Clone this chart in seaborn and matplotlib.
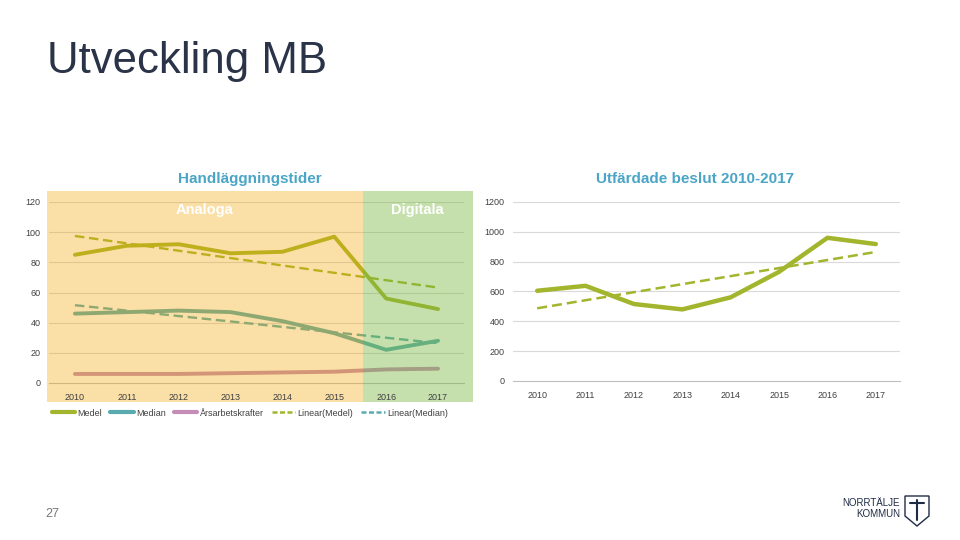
import numpy as np
import pandas as pd
import matplotlib
matplotlib.use("Agg")
import matplotlib.pyplot as plt
import seaborn as sns
from matplotlib.patches import Rectangle, Polygon
from matplotlib.lines import Line2D

# Data
years = [2010, 2011, 2012, 2013, 2014, 2015, 2016, 2017]
medel = [85, 91, 92, 86, 87, 97, 56, 49]
median = [46, 47, 48, 47, 41, 33, 22, 28]
arsarbetskrafter = [6, 6, 6, 6.5, 7, 7.5, 9, 9.5]
beslut = [605, 638, 516, 480, 561, 732, 960, 918]

left_yticks = [0, 20, 40, 60, 80, 100, 120]
right_yticks = [0, 200, 400, 600, 800, 1000, 1200]

C_MEDEL = "#a3b52c"
C_MEDIAN = "#5aabb0"
C_ARS = "#c38db8"
C_TITLE = "#4aa5c6"
C_GRID = "#d9d9d9"
C_TICK = "#404040"

sns.set_theme(style="white")
plt.rcParams["font.family"] = ["Liberation Sans", "DejaVu Sans"]

W, H = 960, 540
fig = plt.figure(figsize=(9.6, 5.4), dpi=100)


def fx(px):
    return px / W


def fy(py):
    return 1 - py / H


# slide title and page number
fig.text(fx(47), fy(62), "Utveckling MB", fontsize=31.5, color="#2a3347", va="center", ha="left")
fig.text(fx(52), fy(514), "27", fontsize=9, color="#777777", va="center", ha="center")

df = pd.DataFrame({"year": years, "Medel": medel, "Median": median,
                   "Årsarbetskrafter": arsarbetskrafter, "beslut": beslut})

# ---- left chart: Handläggningstider
ax1 = fig.add_axes([fx(49), fy(383), fx(464) - fx(49), fy(202) - fy(383)])
ax1.set_facecolor("none")
sns.lineplot(data=df, x="year", y="Medel", ax=ax1, color=C_MEDEL, lw=2.8)
sns.lineplot(data=df, x="year", y="Median", ax=ax1, color=C_MEDIAN, lw=2.8)
sns.lineplot(data=df, x="year", y="Årsarbetskrafter", ax=ax1, color=C_ARS, lw=2.8)
sns.regplot(data=df, x="year", y="Medel", ax=ax1, scatter=False, ci=None, truncate=True,
            line_kws=dict(color=C_MEDEL, lw=1.7, ls=(0, (4, 2))))
sns.regplot(data=df, x="year", y="Median", ax=ax1, scatter=False, ci=None, truncate=True,
            line_kws=dict(color=C_MEDIAN, lw=1.7, ls=(0, (4, 2))))

# translucent period boxes laid over the left chart's lines
ax1.add_patch(Rectangle((fx(47), fy(402)), fx(363) - fx(47), fy(191) - fy(402),
                        transform=fig.transFigure, facecolor="#f2a400", alpha=0.35,
                        edgecolor="none", zorder=3, clip_on=False))
ax1.add_patch(Rectangle((fx(363), fy(402)), fx(473) - fx(363), fy(191) - fy(402),
                        transform=fig.transFigure, facecolor="#79b73c", alpha=0.42,
                        edgecolor="none", zorder=3, clip_on=False))

# ---- right chart: Utfärdade beslut
ax2 = fig.add_axes([fx(513), fy(381), fx(900) - fx(513), fy(202) - fy(381)])
sns.lineplot(data=df, x="year", y="beslut", ax=ax2, color=C_MEDEL, lw=3.2)
sns.regplot(data=df, x="year", y="beslut", ax=ax2, scatter=False, ci=None, truncate=True,
            line_kws=dict(color=C_MEDEL, lw=1.8, ls=(0, (4, 2))))

for ax, ticks in ((ax1, left_yticks), (ax2, right_yticks)):
    ax.set_xlim(years[0] - 0.5, years[-1] + 0.5)
    ax.set_ylim(ticks[0], ticks[-1])
    ax.set_yticks(ticks)
    ax.set_yticklabels([str(t) for t in ticks])
    ax.set_xticks(years)
    ax.set_xticklabels([str(y) for y in years])
    ax.set_xticks(np.arange(years[0] - 0.5, years[-1] + 1, 1), minor=True)
    ax.tick_params(axis="x", which="major", length=0, pad=7, labelsize=6.5, labelcolor=C_TICK)
    ax.tick_params(axis="x", which="minor", length=4, width=0.8, color="#bfbfbf", direction="out")
    ax.tick_params(axis="y", length=0, pad=6, labelsize=6.5, labelcolor=C_TICK)
    for t in ticks[1:]:
        ax.axhline(t, color=C_GRID, lw=0.8, zorder=0.5)
    for side in ("top", "right", "left"):
        ax.spines[side].set_visible(False)
    ax.spines["bottom"].set_color("#bfbfbf")
    ax.spines["bottom"].set_linewidth(0.8)
    ax.xaxis.set_zorder(5)
    ax.yaxis.set_zorder(5)
    ax.set_xlabel("")
    ax.set_ylabel("")

# chart titles and period labels
fig.text(fx(250), fy(179), "Handläggningstider", fontsize=11, fontweight="bold",
         color=C_TITLE, ha="center", va="center")
fig.text(fx(695), fy(179), "Utfärdade beslut 2010-2017", fontsize=11, fontweight="bold",
         color=C_TITLE, ha="center", va="center")
fig.text(fx(205), fy(210), "Analoga", fontsize=10.5, fontweight="bold", color="white",
         ha="center", va="center")
fig.text(fx(417), fy(210), "Digitala", fontsize=10.5, fontweight="bold", color="white",
         ha="center", va="center")

# legend for the left chart
handles = [
    Line2D([], [], color=C_MEDEL, lw=3),
    Line2D([], [], color=C_MEDIAN, lw=3),
    Line2D([], [], color=C_ARS, lw=3),
    Line2D([], [], color=C_MEDEL, lw=1.8, ls=(0, (2, 1))),
    Line2D([], [], color=C_MEDIAN, lw=1.8, ls=(0, (2, 1))),
]
labels = ["Medel", "Median", "Årsarbetskrafter", "Linear(Medel)", "Linear(Median)"]
fig.legend(handles, labels, loc="center", bbox_to_anchor=(fx(250), fy(413)), ncol=5,
           frameon=False, fontsize=6.5, handlelength=2.6, handletextpad=0.25,
           columnspacing=0.9, labelcolor=C_TICK)

# logo
navy = "#1f2b45"
fig.text(fx(900), fy(503), "NORRTÄLJE", fontsize=7, color=navy, ha="right", va="center")
fig.text(fx(900), fy(514), "KOMMUN", fontsize=7, color=navy, ha="right", va="center")
shield = [(905, 496), (929, 496), (929, 516), (917, 526), (905, 516)]
fig.patches.append(Polygon([(fx(a), fy(b)) for a, b in shield], closed=True,
                           transform=fig.transFigure, facecolor="white", edgecolor=navy, lw=1))
fig.lines.append(Line2D([fx(917), fx(917)], [fy(500), fy(520)], transform=fig.transFigure,
                        color=navy, lw=1.5))
fig.lines.append(Line2D([fx(910), fx(924)], [fy(503), fy(503)], transform=fig.transFigure,
                        color=navy, lw=1.5))

fig.savefig("out.png", dpi=100)
